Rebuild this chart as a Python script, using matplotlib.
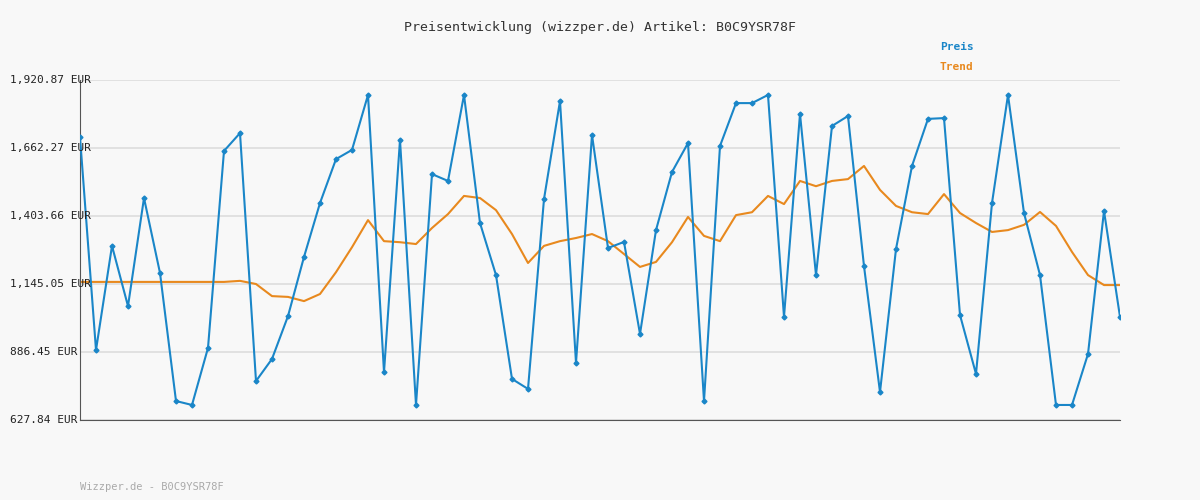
import matplotlib
matplotlib.use("Agg")
import matplotlib.pyplot as plt
import matplotlib.transforms as mtrans

preis = [1704,894,1290,1061,1472,1187,700,685,902,1651,1719,776,860,1023,1248,1453,1620,1655,1864,810,
         1693,685,1563,1537,1864,1377,1179,784,746,1468,1841,845,1712,1282,1305,955,1350,1571,1681,700,
         1670,1833,1833,1864,1020,1792,1179,1746,1784,1213,734,1278,1594,1773,1776,1027,803,1453,1864,1415,
         1179,685,685,879,1423,1020]
trend = [1153,1153,1153,1153,1153,1153,1153,1153,1153,1153,1157,1145,1099,1096,1080,1107,1190,1285,1388,1308,
         1304,1297,1358,1411,1480,1472,1426,1335,1225,1290,1308,1320,1335,1308,1259,1210,1229,1304,1400,1328,
         1308,1407,1418,1480,1449,1537,1517,1537,1544,1594,1503,1442,1418,1411,1487,1415,1377,1343,1350,1370,
         1419,1366,1267,1179,1141,1141]
yticks = [627.84,886.45,1145.05,1403.66,1662.27,1920.87]

fig = plt.figure(figsize=(12,5), dpi=100, facecolor="#f8f8f8")
ax = fig.add_axes([80/1200, 80/500, 1040/1200, 340/500])
ax.set_facecolor("#f8f8f8")
x = list(range(len(preis)))
ax.plot(x, trend, color="#e8891e", lw=1.5, zorder=2)
ax.plot(x, preis, color="#1a86c8", lw=1.5, marker="D", ms=2.5, zorder=3)
ax.set_xlim(0, len(preis)-1)
ax.set_ylim(627.84, 1920.87)
ax.set_yticks(yticks)
ax.set_yticklabels([])
ax.set_xticks([])
ax.grid(axis="y", color="#dddddd", lw=1.2)
for s in ["top","right"]:
    ax.spines[s].set_visible(False)
for s in ["left","bottom"]:
    ax.spines[s].set_color("#555555")
ax.tick_params(axis="y", length=0)
tr = mtrans.blended_transform_factory(fig.transFigure, ax.transData)
for v in yticks:
    fig.text(10/1200, v, f"{v:,.2f} EUR", transform=tr, ha="left", va="center",
             family="DejaVu Sans Mono", fontsize=8, color="#222222", zorder=5)
fig.text(0.5, 1-28/500, "Preisentwicklung (wizzper.de) Artikel: B0C9YSR78F", ha="center", va="center",
         family="DejaVu Sans Mono", fontsize=9.5, color="#333333")
fig.text(940/1200, 1-47/500, "Preis", color="#1a86c8", family="DejaVu Sans Mono", fontsize=8, weight="bold", va="center")
fig.text(940/1200, 1-67/500, "Trend", color="#e8891e", family="DejaVu Sans Mono", fontsize=8, weight="bold", va="center")
fig.text(80/1200, 1-487/500, "Wizzper.de - B0C9YSR78F", color="#aaaaaa", family="DejaVu Sans Mono", fontsize=7.5, va="center")
fig.savefig("out.png", dpi=100, facecolor=fig.get_facecolor())
